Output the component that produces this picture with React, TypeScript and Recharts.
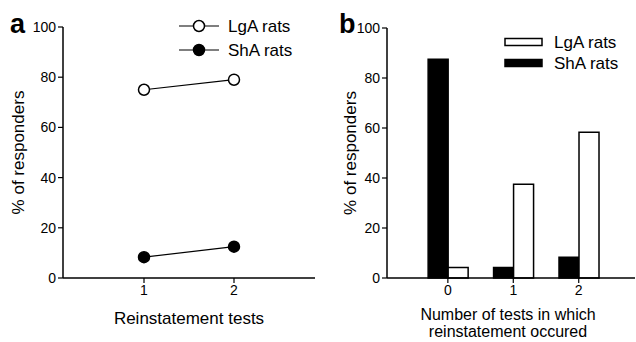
import { Bar, BarChart, Legend, Line, LineChart, XAxis, YAxis } from "recharts";

// panel a: % responders per reinstatement test
const testNumbers = [1, 2];
const lgaResponders = [75, 79];
const shaResponders = [8.3, 12.5];

// panel b: distribution of number of tests with reinstatement
const testCounts = [0, 1, 2];
const lgaCountShare = [4.2, 37.5, 58.3];
const shaCountShare = [87.5, 4.2, 8.3];

const percentTicks = [0, 20, 40, 60, 80, 100];

const font = "'Liberation Sans', Arial, Helvetica, sans-serif";

const lineData = testNumbers.map((test, i) => ({
  test,
  lga: lgaResponders[i],
  sha: shaResponders[i],
}));

const barData = testCounts.map((count, i) => ({
  count,
  lga: lgaCountShare[i],
  sha: shaCountShare[i],
}));

const tickStyle = { fill: "#000", fontSize: 14, fontFamily: font };
const axisLine = { stroke: "#000", strokeWidth: 1.5 };
const tickLine = { stroke: "#000", strokeWidth: 1.2 };

const yTitle =
  (letter: string, letterX: number, titleX: number, title: string) =>
  (props: any) => {
    const vb = props.viewBox;
    const cy = vb.y + vb.height / 2;
    return (
      <g>
        <text
          x={letterX}
          y={33}
          fontSize={27}
          fontWeight="bold"
          fontFamily={font}
          fill="#000"
        >
          {letter}
        </text>
        <text
          x={titleX}
          y={cy}
          transform={`rotate(-90 ${titleX} ${cy})`}
          textAnchor="middle"
          dominantBaseline="central"
          fontSize={17}
          fontFamily={font}
          fill="#000"
        >
          {title}
        </text>
      </g>
    );
  };

const xTitle =
  (lines: string[], dx: number, top: number, size: number, step: number) =>
  (props: any) => {
    const vb = props.viewBox;
    const cx = vb.x + vb.width / 2 + dx;
    return (
      <g>
        {lines.map((line, i) => (
          <text
            key={line}
            x={cx}
            y={top + i * step}
            textAnchor="middle"
            fontSize={size}
            fontFamily={font}
            fill="#000"
          >
            {line}
          </text>
        ))}
      </g>
    );
  };

// LgA row first, ShA row second, as in the figure
const legendOrder = (payload: any[] = []) =>
  [...payload].sort((a, b) => (a.dataKey === "lga" ? -1 : 1) - (b.dataKey === "lga" ? -1 : 1));

function LineLegend(props: any) {
  const items = legendOrder(props.payload);
  return (
    <svg width={140} height={50}>
      {items.map((item: any, i: number) => {
        const y = 10 + i * 24;
        const filled = item.dataKey === "sha";
        return (
          <g key={item.value}>
            <line x1={0} x2={40} y1={y} y2={y} stroke="#000" strokeWidth={1.2} />
            <circle
              cx={20}
              cy={y}
              r={5.5}
              fill={filled ? "#000" : "#fff"}
              stroke="#000"
              strokeWidth={1.5}
            />
            <text
              x={49}
              y={y}
              dominantBaseline="central"
              fontSize={17}
              fontFamily={font}
              fill="#000"
            >
              {item.value}
            </text>
          </g>
        );
      })}
    </svg>
  );
}

function BarLegend(props: any) {
  const items = legendOrder(props.payload);
  return (
    <svg width={130} height={45}>
      {items.map((item: any, i: number) => {
        const y = 10 + i * 21;
        const filled = item.dataKey === "sha";
        return (
          <g key={item.value}>
            <rect
              x={1}
              y={y - 3.5}
              width={37}
              height={7}
              fill={filled ? "#000" : "#fff"}
              stroke="#000"
              strokeWidth={1.5}
            />
            <text
              x={50}
              y={y}
              dominantBaseline="central"
              fontSize={17}
              fontFamily={font}
              fill="#000"
            >
              {item.value}
            </text>
          </g>
        );
      })}
    </svg>
  );
}

export default function App() {
  return (
    <div
      style={{
        position: "absolute",
        left: 0,
        top: 0,
        width: 636,
        height: 342,
        background: "#fff",
        display: "flex",
      }}
    >
      <div style={{ position: "relative", width: 318, height: 342 }}>
        <LineChart
          width={318}
          height={342}
          data={lineData}
          margin={{ top: 27, right: 3, bottom: 24, left: 0 }}
        >
          <XAxis
            type="number"
            dataKey="test"
            domain={[0.1, 2.9]}
            ticks={testNumbers}
            allowDataOverflow
            height={40}
            tick={tickStyle}
            tickSize={5}
            axisLine={axisLine}
            tickLine={tickLine}
            label={xTitle(["Reinstatement tests"], 0, 324, 17, 0)}
          />
          <YAxis
            domain={[0, 100]}
            ticks={percentTicks}
            width={63}
            tick={tickStyle}
            tickSize={5}
            axisLine={axisLine}
            tickLine={tickLine}
            label={yTitle("a", 10, 18, "% of responders")}
          />
          <Legend
            layout="vertical"
            align="center"
            verticalAlign="middle"
            content={LineLegend}
            wrapperStyle={{ position: "absolute", left: 179, top: 16, width: 140 }}
          />
          <Line
            dataKey="lga"
            name="LgA rats"
            stroke="#000"
            strokeWidth={1.2}
            dot={{ r: 5.5, fill: "#fff", stroke: "#000", strokeWidth: 1.5 }}
            isAnimationActive={false}
          />
          <Line
            dataKey="sha"
            name="ShA rats"
            stroke="#000"
            strokeWidth={1.2}
            dot={{ r: 5.5, fill: "#000", stroke: "#000", strokeWidth: 1.5 }}
            isAnimationActive={false}
          />
        </LineChart>
      </div>
      <div style={{ position: "relative", width: 318, height: 342 }}>
        <BarChart
          width={318}
          height={342}
          data={barData}
          barGap={0}
          margin={{ top: 28, right: 1, bottom: 24, left: 0 }}
        >
          <XAxis
            type="number"
            dataKey="count"
            domain={[-0.93, 2.86]}
            ticks={testCounts}
            allowDataOverflow
            height={40}
            tick={tickStyle}
            tickSize={5}
            axisLine={axisLine}
            tickLine={tickLine}
            label={xTitle(
              ["Number of tests in which", "reinstatement occured"],
              -3,
              320,
              16,
              17
            )}
          />
          <YAxis
            domain={[0, 100]}
            ticks={percentTicks}
            width={69}
            tick={tickStyle}
            tickSize={5}
            axisLine={axisLine}
            tickLine={tickLine}
            label={yTitle("b", 21, 32, "% of responders")}
          />
          <Legend
            layout="vertical"
            align="center"
            verticalAlign="middle"
            content={BarLegend}
            wrapperStyle={{ position: "absolute", left: 186, top: 32, width: 130 }}
          />
          <Bar
            dataKey="sha"
            name="ShA rats"
            fill="#000"
            stroke="#000"
            strokeWidth={1.5}
            barSize={20}
            isAnimationActive={false}
          />
          <Bar
            dataKey="lga"
            name="LgA rats"
            fill="#fff"
            stroke="#000"
            strokeWidth={1.5}
            barSize={20}
            isAnimationActive={false}
          />
        </BarChart>
      </div>
    </div>
  );
}
